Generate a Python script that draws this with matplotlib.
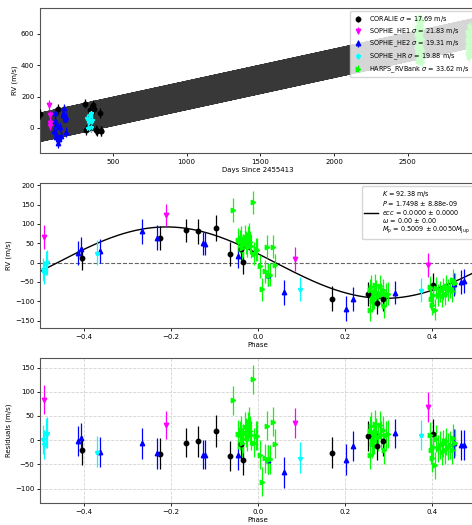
import numpy as np
import matplotlib
matplotlib.use("Agg")
import matplotlib.pyplot as plt

# ---------------- data ----------------
instruments = ["CORALIE", "SOPHIE_HE1", "SOPHIE_HE2", "SOPHIE_HR", "HARPS_RVBank"]
sigmas = [17.69, 21.83, 19.31, 19.88, 33.62]
colors = ["black", "magenta", "blue", "cyan", "lime"]
markers = ["o", "v", "^", "*", ">"]

# model parameters
K = 92.38
P = 1.7498
ph0 = 0.04
trend_slope = 0.205
trend_intercept = 3.0

# time-domain data (days since 2455413, RV m/s)
cor_t = [7, 128, 311, 314, 342, 350, 367, 371, 383, 390, 412, 417, 420]
cor_rv = [88, 118, 155, -15, 115, 5, 148, 120, -12, -20, 95, -18, -22]
he1_t = [68, 70, 72, 74]
he1_rv = [147, 80, 32, 15]
he2_t = [100, 104, 108, 112, 116, 120, 126, 134, 142, 150, 158, 164, 170, 174, 178, 182]
he2_rv = [-20, 45, 95, -60, -40, 20, -95, -70, 5, -50, 90, 80, 125, 60, 70, -25]
hr_t = [327, 333, 340, 345, 349, 354, 358]
hr_rv = [62, 2, 45, 83, 9, 96, 50]
harps_t = [2562, 2563, 2564, 2566, 2567, 2568, 2569, 2571, 2572, 2573, 2575, 2576,
           2577, 2579, 2580, 2581, 2583, 2584, 2585, 2587, 2588, 2589, 2591, 2592,
           2593, 2595, 2596, 2597, 2599, 2600,
           2905, 2907, 2909, 2911, 2913, 2915, 2917, 2919, 2921, 2923, 2925, 2927,
           2929, 2931, 2933, 2935, 2937, 2939, 2941, 2943, 2945, 2947, 2949, 2951,
           2953, 2955, 2957]
harps_rv = [600, 640, 520, 470, 690, 560, 430, 610, 500, 580, 650, 450, 530, 620,
            480, 700, 560, 440, 590, 510, 660, 470, 540, 610, 420, 570, 680, 500,
            630, 460,
            520, 480, 560, 610, 450, 540, 590, 500, 470, 650, 530, 600, 490, 560,
            620, 510, 580, 470, 640, 540, 500, 600, 560, 520, 610, 490, 570]

# phase-domain data (phase, residual m/s)
cor_ph = [-0.403, -0.225, -0.164, -0.138, -0.097, -0.065, -0.039, -0.034,
          0.170, 0.252, 0.273, 0.287, 0.401]
cor_res = [-21, -28, -5, -2, 19, -33, -8, -41, -26, 8, -12, -2, 12]
cor_err = [30, 32, 30, 32, 33, 31, 30, 31, 32, 31, 30, 31, 32]
he1_ph = [-0.491, -0.210, 0.086, 0.390]
he1_res = [84, 31, 36, 68]
he1_err = [30, 29, 31, 31]
he2_ph = [-0.413, -0.405, -0.363, -0.266, -0.231, -0.126, -0.122, -0.045,
          0.023, 0.059, 0.202, 0.218, 0.314, 0.449, 0.466, 0.473]
he2_res = [-2, 4, -24, -6, -27, -30, -30, -31, -41, -66, -40, -12, 14, -6, -9, -10]
he2_err = [31, 31, 31, 32, 32, 30, 30, 30, 30, 32, 32, 31, 30, 30, 31, 31]
hr_ph = [-0.493, -0.490, -0.487, -0.484, -0.369, 0.097, 0.374]
hr_res = [2, -8, 14, 15, -24, -36, 10]
hr_err = [30, 30, 31, 32, 32, 32, 31]
harps_ph = [-0.058, -0.012, -0.045, -0.042, -0.039, -0.036, -0.034, -0.030,
            -0.027, -0.026, -0.023, -0.020, -0.018, -0.016, -0.010, -0.005,
            -0.002, 0.004, 0.010, 0.015, 0.021, 0.024, 0.027, 0.034, 0.040,
            0.256, 0.258, 0.260, 0.262, 0.264, 0.266, 0.268, 0.271, 0.275,
            0.279, 0.283, 0.287, 0.290, 0.294, 0.298,
            0.394, 0.397, 0.399, 0.401, 0.405, 0.409, 0.413, 0.417, 0.421,
            0.425, 0.428, 0.432, 0.436, 0.440, 0.444, 0.448, 0.452]
harps_res = [83, 126, 12, 10, 21, -5, 3, 28, 15, 8, 29, 38, 20, 10, -5, 9,
             9, -30, -86, -37, 30, -40, -39, 38, -7,
             -31, 20, 29, -8, -3, 0, 33, 17, 7, 31, 10, 21, -21, 10, 12,
             10, -21, -37, -14, -52, 3, -17, -10, -24, -7, -21, -2, -14, -10,
             -21, 5, -5]
harps_err = [30] * 25 + [29] * 15 + [28] * 17

t_data = [cor_t, he1_t, he2_t, hr_t, harps_t]
rv_data = [cor_rv, he1_rv, he2_rv, hr_rv, harps_rv]
ph_data = [cor_ph, he1_ph, he2_ph, hr_ph, harps_ph]
res_data = [cor_res, he1_res, he2_res, hr_res, harps_res]
err_data = [cor_err, he1_err, he2_err, hr_err, harps_err]


def rv_model(ph):
    return -K * np.sin(2 * np.pi * (np.asarray(ph) - ph0))


# ---------------- figure ----------------
plt.rcParams["font.family"] = ["DejaVu Sans"]
fs = 5
fig = plt.figure(figsize=(4.72, 5.25), dpi=100)
W = 436 / 472
H = 145 / 525
ax1 = fig.add_axes([40 / 472, 1 - 153 / 525, W, H])
ax2 = fig.add_axes([40 / 472, 1 - 328 / 525, W, H])
ax3 = fig.add_axes([40 / 472, 1 - 503 / 525, W, H])

ms = 3.2
elw = 0.9

# --- top: time series ---
t_dense = np.linspace(0, 2965, 80000)
ph_dense = ((t_dense - 0.3) / P) % 1.0 - 0.5
ax1.plot(t_dense, trend_intercept + trend_slope * t_dense + rv_model(ph_dense),
         color="k", lw=0.5, alpha=0.78, zorder=1)
for name, sig, c, m, t, rv, e in zip(instruments, sigmas, colors, markers,
                                     t_data, rv_data, err_data):
    ax1.errorbar(t, rv, yerr=e, fmt=m, color=c, ecolor=c, ms=ms, elinewidth=elw,
                 capsize=0, zorder=3, label=f"{name} $\\sigma$ = {sig:.2f} m/s")
ax1.set_xlim(5, 2962)
ax1.set_ylim(-160, 766)
ax1.set_xticks([500, 1000, 1500, 2000, 2500])
ax1.set_yticks([0, 200, 400, 600])
ax1.set_xlabel("Days Since 2455413", fontsize=fs, labelpad=1.5)
ax1.set_ylabel("RV (m/s)", fontsize=fs, labelpad=2)
ax1.legend(loc="upper right", fontsize=4.7, handlelength=1.6, labelspacing=0.32,
           borderpad=0.45, framealpha=0.8, handletextpad=0.9)

# --- middle: phased RV ---
ph_line = np.linspace(-0.5, 0.5, 500)
ax2.axhline(0, color="#666666", ls="--", lw=0.8, zorder=1)
model_label = ("$K$ = 92.38 m/s\n$P$ = 1.7498 $\\pm$ 8.88e-09\n"
               "$ecc$ = 0.0000 $\\pm$ 0.0000\n$\\omega$ = 0.00 $\\pm$ 0.00\n"
               "$M_{\\rm p}$ = 0.5009 $\\pm$ 0.0050$M_{\\rm Jup}$")
ax2.plot(ph_line, rv_model(ph_line), color="k", lw=1.0, zorder=2, label=model_label)
for c, m, ph, res, e in zip(colors, markers, ph_data, res_data, err_data):
    rv = np.asarray(res) + rv_model(ph)
    ax2.errorbar(ph, rv, yerr=e, fmt=m, color=c, ecolor=c, ms=ms, elinewidth=elw,
                 capsize=0, zorder=3)
ax2.set_xlim(-0.5, 0.5)
ax2.set_ylim(-169, 206)
ax2.set_yticks([-150, -100, -50, 0, 50, 100, 150, 200])
ax2.set_xticks([-0.4, -0.2, 0.0, 0.2, 0.4])
ax2.set_xlabel("Phase", fontsize=fs, labelpad=1.5)
ax2.set_ylabel("RV (m/s)", fontsize=fs, labelpad=2)
leg2 = ax2.legend(loc="upper right", fontsize=4.7, handlelength=2.0, borderpad=0.45,
                  framealpha=0.8, handletextpad=0.7)
for txt in leg2.get_texts():
    txt.set_linespacing(0.95)

# --- bottom: residuals ---
for c, m, ph, res, e in zip(colors, markers, ph_data, res_data, err_data):
    ax3.errorbar(ph, res, yerr=e, fmt=m, color=c, ecolor=c, ms=ms, elinewidth=elw,
                 capsize=0, zorder=3)
ax3.grid(True, ls="--", color="lightgray", lw=0.6)
ax3.set_axisbelow(True)
ax3.set_xlim(-0.5, 0.5)
ax3.set_ylim(-130, 170)
ax3.set_yticks([-100, -50, 0, 50, 100, 150])
ax3.set_xticks([-0.4, -0.2, 0.0, 0.2, 0.4])
ax3.set_xlabel("Phase", fontsize=fs, labelpad=1.5)
ax3.set_ylabel("Residuals (m/s)", fontsize=fs, labelpad=2)

for ax in (ax1, ax2, ax3):
    ax.tick_params(labelsize=fs, length=2.5, width=0.6, pad=1.5)
    for sp in ax.spines.values():
        sp.set_linewidth(0.8)
        sp.set_color("#555555")

fig.savefig("out.png", dpi=100)
